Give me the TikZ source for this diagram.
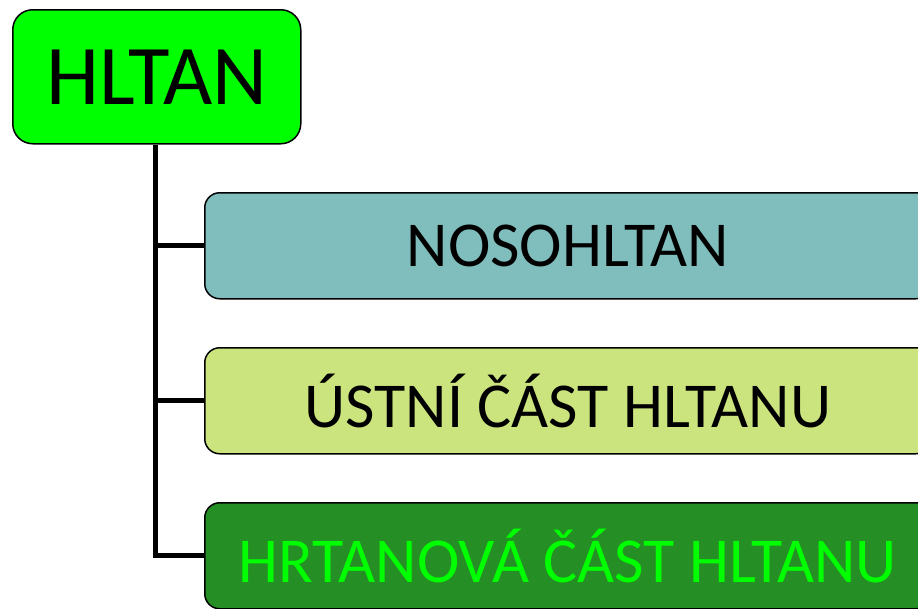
\documentclass[tikz,border=0pt]{standalone}
\usepackage{fontspec}
\setmainfont{Carlito}
\definecolor{topgreen}{HTML}{00FF00}
\definecolor{tealbox}{HTML}{80BEBE}
\definecolor{limebox}{HTML}{CCE47E}
\definecolor{darkbox}{HTML}{258E25}
\begin{document}
\begin{tikzpicture}[x=1pt,y=-1pt,
  box/.style={draw=black,line width=1.5pt,rounded corners=15pt,minimum height=106pt,minimum width=726pt,anchor=north west,inner sep=0pt,font=\fontsize{64}{64}\selectfont},
  conn/.style={line width=5pt}]
\useasboundingbox (0,0) rectangle (918,608);
\clip (0,0) rectangle (918,608);
\node[draw=black,line width=1.5pt,rounded corners=20pt,fill=topgreen,minimum width=288pt,minimum height=134pt,anchor=north west,inner sep=0pt,font=\fontsize{85}{85}\selectfont] (top) at (12,9) {HLTAN};
\node[box,fill=tealbox] (b1) at (204,192) {NOSOHLTAN};
\node[box,fill=limebox] (b2) at (204,347) {ÚSTNÍ ČÁST HLTANU};
\node[box,fill=darkbox,text=topgreen] (b3) at (204,502) {HRTANOVÁ ČÁST HLTANU};
\coordinate (v) at (155,0);
\draw[conn] (top.south -| v) |- (b3.west);
\draw[conn] (v |- b1.west) -- (b1.west);
\draw[conn] (v |- b2.west) -- (b2.west);
\end{tikzpicture}
\end{document}
